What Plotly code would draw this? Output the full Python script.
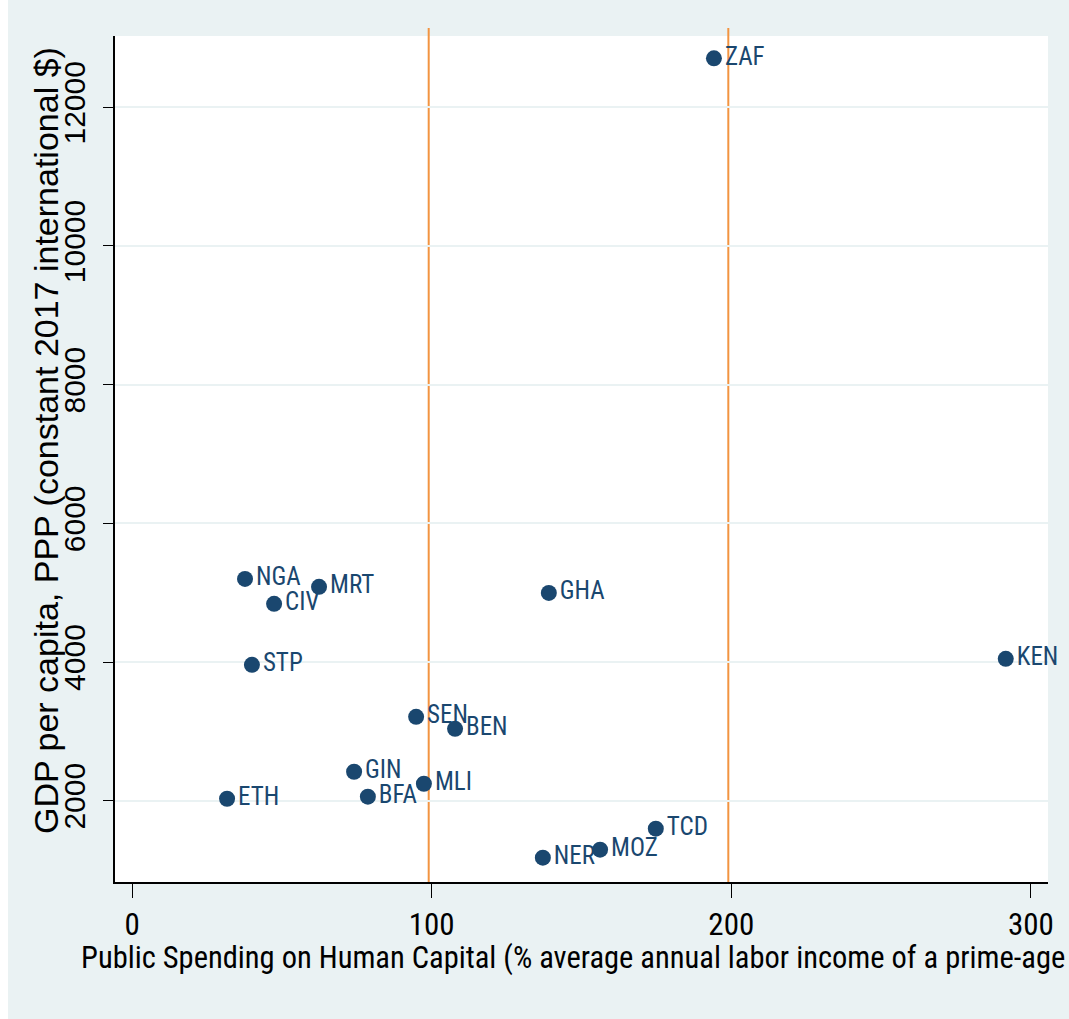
import plotly.graph_objects as go

# Country codes and their coordinates
countries = ["ZAF", "NGA", "MRT", "CIV", "GHA", "KEN", "STP", "SEN",
             "BEN", "GIN", "MLI", "ETH", "BFA", "TCD", "MOZ", "NER"]
spending = [194.2, 37.7, 62.4, 47.4, 139.1, 291.6, 40.0, 94.8,
            107.8, 74.1, 97.4, 31.7, 78.7, 174.8, 156.2, 137.1]
gdp_pc = [12706, 5199, 5084, 4839, 4997, 4046, 3960, 3210,
          3037, 2418, 2245, 2029, 2058, 1597, 1294, 1179]

# Reference lines on the x axis
ref_lines = [99, 199]

x_ticks = [0, 100, 200, 300]
y_ticks = [2000, 4000, 6000, 8000, 10000, 12000]

W, H = 1069, 1019
L, R, T, B = 115, 21, 36, 137
PW, PH = W - L - R, H - T - B

NAVY = "#1a476f"
ORANGE = "#f29441"
BG = "#eaf2f3"
FONT = "Roboto Condensed, Liberation Sans, sans-serif"
VFONT = "Liberation Sans, Arial, sans-serif"


def px_x(p):
    return (p - L) / PW


def px_y(p):
    return 1 - (p - T) / PH


fig = go.Figure()
fig.add_trace(go.Scatter(
    x=spending, y=gdp_pc, mode="markers+text",
    text=countries, textposition="middle right",
    marker=dict(color=NAVY, size=16, line=dict(width=0)),
    textfont=dict(family=FONT, size=25, color=NAVY),
    cliponaxis=False, showlegend=False,
))

shapes = []
for v in ref_lines:
    shapes.append(dict(type="line", xref="x", yref="paper", x0=v, x1=v,
                       y0=0, y1=px_y(28), layer="below",
                       line=dict(color=ORANGE, width=2)))
# thin white strip along the left edge of the page
shapes.append(dict(type="rect", xref="paper", yref="paper",
                   x0=px_x(0), x1=px_x(8), y0=px_y(H), y1=px_y(0),
                   fillcolor="white", line=dict(width=0), layer="below"))

annotations = [
    dict(text="Public Spending on Human Capital (% average annual labor income of a prime-age",
         xref="paper", yref="paper", x=px_x(79), y=px_y(958),
         xanchor="left", yanchor="middle", showarrow=False,
         font=dict(family=FONT, size=30.5, color="black")),
    dict(text="GDP per capita, PPP (constant 2017 international $)",
         xref="paper", yref="paper", x=px_x(46), y=px_y(441),
         xanchor="center", yanchor="middle", textangle=-90, showarrow=False,
         font=dict(family=VFONT, size=34, color="black")),
]

fig.update_layout(
    width=W, height=H,
    margin=dict(l=L, r=R, t=T, b=B, pad=0),
    paper_bgcolor=BG, plot_bgcolor="white",
    shapes=shapes, annotations=annotations,
    xaxis=dict(range=[-5.7, 305.7], tickvals=x_ticks, ticks="outside",
               ticklen=14, tickwidth=1, tickcolor="black",
               showgrid=False, zeroline=False,
               showline=True, linecolor="black", linewidth=2,
               tickfont=dict(family=FONT, size=31, color="black")),
    yaxis=dict(range=[828, 13028], tickvals=y_ticks, tickformat="d",
               ticks="outside", ticklen=10, tickwidth=1, tickcolor="black",
               tickangle=-90, ticklabelstandoff=6,
               showgrid=True, gridcolor=BG, gridwidth=2, zeroline=False,
               showline=True, linecolor="black", linewidth=2,
               tickfont=dict(family=VFONT, size=30, color="black")),
)

fig.write_html("out.html")
